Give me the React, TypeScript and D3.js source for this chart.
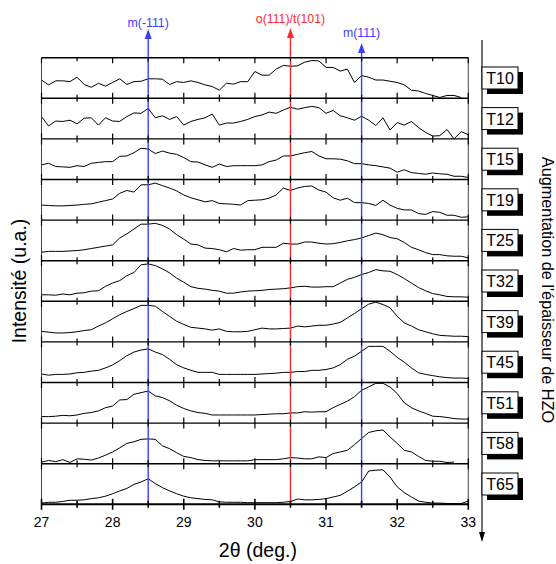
import React from "react";
import * as d3 from "d3";

const W = 556;
const H = 564;

// 2θ grid (deg.)
const angles: number[] = d3.range(61).map((i) => +(27 + i * 0.1).toFixed(1));
const xTicksMajor = [27, 28, 29, 30, 31, 32, 33];
const xTicksMinor = [27.5, 28.5, 29.5, 30.5, 31.5, 32.5];

const sampleNames = ["T10", "T12", "T15", "T19", "T25", "T32", "T39", "T45", "T51", "T58", "T65"];

// relative intensities (normalised within each panel)
const T10 = [0.45,0.33,0.43,0.43,0.41,0.52,0.34,0.27,0.37,0.30, 0.39,0.48,0.34,0.41,0.42,0.48,0.48,0.47,0.34,0.41, 0.39,0.43,0.39,0.33,0.29,0.20,0.37,0.35,0.41,0.41, 0.66,0.57,0.57,0.72,0.81,0.79,0.80,0.89,0.93,0.92, 0.76,0.76,0.67,0.72,0.39,0.56,0.52,0.45,0.45,0.42, 0.39,0.33,0.20,0.18,0.12,0.07,0.02,0.07,0.07,0.02, null];
const T12 = [0.55,0.32,0.44,0.43,0.46,0.37,0.51,0.52,0.34,0.52, 0.44,0.43,0.55,0.64,0.63,0.75,0.52,0.57,0.48,0.55, 0.34,0.43,0.48,0.52,0.61,0.34,0.39,0.39,0.43,0.48, 0.55,0.59,0.66,0.63,0.71,0.78,0.73,0.77,0.80,0.77, 0.63,0.70,0.57,0.52,0.46,0.56,0.46,0.33,0.52,0.22, 0.40,0.34,0.43,0.28,0.16,0.07,0.08,0.23,0.0,0.18, 0.10];
const T15 = [0.36,0.40,0.32,0.31,0.30,0.34,0.32,0.40,0.42,0.44, 0.44,0.57,0.58,0.66,0.77,0.75,0.64,0.70,0.65,0.62, 0.54,0.44,0.43,0.36,0.30,0.38,0.32,0.34,0.34,0.34, 0.34,0.36,0.44,0.48,0.58,0.58,0.62,0.66,0.69,0.58, 0.51,0.51,0.50,0.46,0.39,0.39,0.36,0.34,0.31,0.28, 0.18,0.24,0.17,0.15,0.13,0.16,0.14,0.13,0.08,0.08, 0.05];
const T19 = [0.37,0.36,0.35,0.35,0.36,0.37,0.39,0.40,0.44,0.48, 0.52,0.66,0.73,0.69,0.87,0.87,0.91,0.85,0.79,0.72, 0.62,0.55,0.50,0.45,0.48,0.41,0.40,0.39,0.37,0.48, 0.49,0.50,0.54,0.62,0.79,0.73,0.79,0.83,0.84,0.74, 0.69,0.55,0.49,0.54,0.43,0.43,0.41,0.36,0.49,0.37, 0.29,0.25,0.25,0.16,0.14,0.21,0.19,0.12,0.12,0.07, 0.08];
const T25 = [0.21,0.23,0.23,0.23,0.24,0.25,0.27,0.30,0.33,0.36, 0.39,0.56,0.66,0.78,0.90,0.90,0.92,0.87,0.78,0.64, 0.53,0.41,0.39,0.31,0.30,0.27,0.22,0.30,0.26,0.27, 0.27,0.33,0.33,0.33,0.43,0.41,0.41,0.46,0.46,0.43, 0.41,0.42,0.45,0.49,0.52,0.56,0.62,0.68,0.64,0.57, 0.54,0.45,0.33,0.27,0.20,0.15,0.15,0.12,0.11,0.11, 0.07];
const T32 = [0.16,0.16,0.15,0.18,0.16,0.20,0.21,0.25,0.26,0.37, 0.45,0.51,0.63,0.71,0.90,0.92,0.88,0.80,0.70,0.57, 0.47,0.36,0.32,0.30,0.27,0.25,0.20,0.20,0.23,0.25, 0.26,0.27,0.29,0.30,0.31,0.33,0.36,0.37,0.35,0.35, 0.36,0.36,0.45,0.54,0.59,0.66,0.71,0.78,0.75,0.74, 0.66,0.56,0.45,0.34,0.26,0.19,0.16,0.12,0.11,0.11, 0.10];
const T39 = [0.26,0.24,0.22,0.22,0.23,0.25,0.28,0.30,0.39,0.47, 0.57,0.67,0.75,0.82,0.90,0.90,0.88,0.75,0.63,0.51, 0.43,0.36,0.34,0.32,0.29,0.32,0.26,0.25,0.25,0.26, 0.30,0.34,0.32,0.32,0.33,0.34,0.39,0.37,0.39,0.41, 0.41,0.44,0.48,0.59,0.70,0.82,0.93,0.98,0.92,0.84, 0.63,0.47,0.39,0.30,0.25,0.20,0.16,0.15,0.14,0.14, 0.13];
const T45 = [0.21,0.18,0.20,0.20,0.21,0.24,0.25,0.28,0.30,0.36, 0.43,0.54,0.66,0.75,0.80,0.83,0.75,0.69,0.57,0.44, 0.36,0.30,0.25,0.25,0.25,0.20,0.20,0.20,0.20,0.20, 0.20,0.21,0.22,0.23,0.25,0.25,0.27,0.27,0.30,0.30, 0.32,0.36,0.44,0.57,0.65,0.77,0.89,0.89,0.89,0.77, 0.62,0.50,0.36,0.24,0.20,0.17,0.14,0.12,0.11,0.11, 0.10];
const T51 = [0.16,0.16,0.17,0.19,0.18,0.20,0.24,0.26,0.30,0.38, 0.42,0.57,0.58,0.71,0.75,0.79,0.67,0.63,0.55,0.44, 0.36,0.30,0.26,0.24,0.20,0.20,0.20,0.20,0.20,0.20, 0.20,0.21,0.22,0.23,0.23,0.25,0.25,0.28,0.27,0.28, 0.28,0.38,0.46,0.54,0.65,0.81,0.89,0.98,0.98,0.89, 0.73,0.50,0.38,0.30,0.24,0.17,0.16,0.14,0.11,0.10, 0.10];
const T58 = [0.04,0.08,0.05,0.10,0.03,0.12,0.11,0.09,0.14,0.21, 0.29,0.39,0.50,0.54,0.60,0.61,0.60,0.44,0.37,0.27, 0.18,0.15,0.10,0.08,0.07,0.07,0.07,0.07,0.07,0.07, 0.10,0.10,0.10,0.10,0.12,0.15,0.14,0.12,0.12,0.17, 0.15,0.25,0.29,0.33,0.47,0.62,0.77,0.81,0.83,0.66, 0.50,0.33,0.29,0.18,0.08,0.06,0.06,0.03,0.04,null, null];
const T65 = [0.03,0.05,0.05,0.07,0.10,0.10,0.11,0.14,0.16,0.20, 0.26,0.33,0.39,0.49,0.55,0.63,0.51,0.41,0.33,0.26, 0.20,0.16,0.14,0.12,0.11,0.06,0.05,0.05,0.05,0.04, 0.04,0.04,0.04,0.04,0.05,0.07,0.13,0.11,0.11,0.12, 0.14,0.18,0.22,0.32,0.43,0.55,0.82,0.84,0.85,0.67, 0.43,0.29,0.18,0.08,0.05,0.03,0.03,0.02,0.02,0.02, 0.08];

const seriesList: (number | null)[][] = [T10, T12, T15, T19, T25, T32, T39, T45, T51, T58, T65];

const refPositions = [28.5, 30.5, 31.5];
const refLabels = ["m(-111)", "o(111)/t(101)", "m(111)"];
const refColors = ["#3c3cff", "#ff2b2b", "#3c3cff"];

const xTitle = "2θ (deg.)";
const yTitle = "Intensité (u.a.)";
const sideTitle = "Augmentation de l'épaisseur de HZO";

const FONT = "Arial, 'Liberation Sans', Helvetica, sans-serif";

export default function App() {
  const left = 41.5;
  const right = 468.3;
  const top = 57.7;
  const ph = 40.6;
  const n = seriesList.length;
  const bottom = top + n * ph;

  const x = d3.scaleLinear().domain([27, 33]).range([left, right]);

  const panels = seriesList.map((vals, i) => {
    const y = d3.scaleLinear().domain([0, 1]).range([top + (i + 1) * ph, top + i * ph]);
    const line = d3
      .line<number | null>()
      .defined((d) => d !== null)
      .x((_, j) => x(angles[j]))
      .y((d) => y(d as number));
    return { path: line(vals) || "", cy: top + (i + 0.5) * ph };
  });

  const boundaries = d3.range(n + 1).map((b) => top + b * ph);

  const refTipY = [29, 28, 43];
  const refLabelY = [26.5, 23, 37];

  return (
    <svg
      width={W}
      height={H}
      style={{ position: "absolute", left: 0, top: 0, background: "#fff" }}
      fontFamily={FONT}
    >
      <rect x={0} y={0} width={W} height={H} fill="#fff" />

      {/* traces */}
      {panels.map((p, i) => (
        <path key={"t" + i} d={p.path} fill="none" stroke="#000" strokeWidth={1} strokeLinejoin="round" />
      ))}

      {/* reference lines */}
      {refPositions.map((v, i) => {
        const px = x(v);
        const tip = refTipY[i];
        return (
          <g key={"r" + i}>
            <line x1={px} x2={px} y1={tip + 8} y2={bottom} stroke={refColors[i]} strokeWidth={1.4} />
            <path d={`M${px},${tip} L${px - 3.5},${tip + 10} L${px + 3.5},${tip + 10} Z`} fill={refColors[i]} />
            <text x={px} y={refLabelY[i]} textAnchor="middle" fontSize={12.3} fill={refColors[i]}>
              {refLabels[i]}
            </text>
          </g>
        );
      })}

      {/* panel borders */}
      <line x1={left} x2={left} y1={top} y2={bottom} stroke="#444" strokeWidth={1} />
      <line x1={right} x2={right} y1={top} y2={bottom} stroke="#444" strokeWidth={1} />
      {boundaries.map((by, b) => (
        <g key={"b" + b}>
          <line
            x1={left}
            x2={right}
            y1={by}
            y2={by}
            stroke="#000"
            strokeWidth={b === n ? 2 : 1.4}
          />
          {xTicksMajor.map((t) => (
            <line
              key={"M" + t}
              x1={x(t)}
              x2={x(t)}
              y1={b === 0 ? by : by - 5.5}
              y2={by + 5.5}
              stroke="#000"
              strokeWidth={b === n ? 1.6 : 1.2}
            />
          ))}
          {xTicksMinor.map((t) => (
            <line
              key={"m" + t}
              x1={x(t)}
              x2={x(t)}
              y1={b === 0 ? by : by - 3.5}
              y2={by + 3.5}
              stroke="#000"
              strokeWidth={b === n ? 1.6 : 1.2}
            />
          ))}
        </g>
      ))}

      {/* x tick labels */}
      {xTicksMajor.map((t) => (
        <text key={"xl" + t} x={x(t)} y={bottom + 23} textAnchor="middle" fontSize={14} fill="#000">
          {t}
        </text>
      ))}

      {/* axis titles */}
      <text x={(left + right) / 2 + 3} y={557} textAnchor="middle" fontSize={19.5} fill="#000">
        {xTitle}
      </text>
      <text
        transform={`translate(26,${(top + bottom) / 2}) rotate(-90)`}
        textAnchor="middle"
        fontSize={19.5}
        fill="#000"
      >
        {yTitle}
      </text>

      {/* right arrow */}
      <line x1={482} x2={482} y1={40} y2={534} stroke="#333" strokeWidth={1.4} />
      <path d="M482,542 L479,532 L485,532 Z" fill="#000" />
      <text
        transform={`translate(542,290) rotate(90)`}
        textAnchor="middle"
        fontSize={16.3}
        fill="#000"
      >
        {sideTitle}
      </text>

      {/* sample labels */}
      {panels.map((p, i) => (
        <g key={"lab" + i}>
          <rect x={487} y={p.cy - 6} width={36} height={22} fill="#000" />
          <rect x={482} y={p.cy - 11} width={36} height={22} fill="#fff" stroke="#000" strokeWidth={1} />
          <text x={500} y={p.cy + 6} textAnchor="middle" fontSize={16} fill="#000">
            {sampleNames[i]}
          </text>
        </g>
      ))}
    </svg>
  );
}
